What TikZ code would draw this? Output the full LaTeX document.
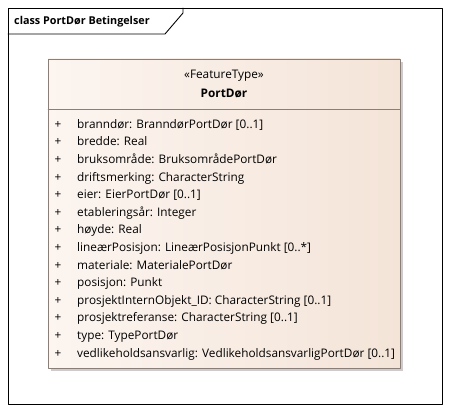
\documentclass[tikz,border=0pt]{standalone}
\usepackage{fontspec}
\setmainfont{Open Sans}
\usetikzlibrary{positioning}
\definecolor{boxleft}{HTML}{FCF5F0}
\definecolor{boxright}{HTML}{F4E4D8}
\definecolor{boxline}{HTML}{8A7F78}
\definecolor{shadowgray}{HTML}{CFCACB}

\begin{document}
\begin{tikzpicture}[x=1pt,y=-1pt,line cap=round,line join=round,
    attr/.style={inner sep=0pt,font=\fontsize{11.8}{14}\selectfont},
    head/.style={inner sep=0pt,font=\fontsize{11.8}{14}\selectfont}]
  \useasboundingbox (0,0) rectangle (450,412);
  % frame and tab
  \draw[line width=0.9pt] (8,8) rectangle (442,404);
  \draw[line width=0.9pt] (8,34) -- (165,34) -- (183,13) -- (183,8);
  \node[head,anchor=base west,font=\fontsize{10.8}{13}\selectfont\bfseries] (title) at (14,25) {class PortDør Betingelser};
  % class box
  \fill[shadowgray] (51,62) rectangle (403,371);
  \draw[draw=boxline,left color=boxleft,right color=boxright] (48,59) rectangle (400,368);
  \draw[boxline] (48,109) -- (400,109);
  \node[head,anchor=base] (stereo) at (224,79) {«FeatureType»};
  \node[head,anchor=base,font=\fontsize{11.8}{14}\selectfont\bfseries] (classname) at (224,97.5) {PortDør};
  \foreach \txt [count=\i] in {
      {branndør: BranndørPortDør [0..1]},
      {bredde: Real},
      {bruksområde: BruksområdePortDør},
      {driftsmerking: CharacterString},
      {eier: EierPortDør [0..1]},
      {etableringsår: Integer},
      {høyde: Real},
      {lineærPosisjon: LineærPosisjonPunkt [0..*]},
      {materiale: MaterialePortDør},
      {posisjon: Punkt},
      {prosjektInternObjekt\_ID: CharacterString [0..1]},
      {prosjektreferanse: CharacterString [0..1]},
      {type: TypePortDør},
      {vedlikeholdsansvarlig: VedlikeholdsansvarligPortDør [0..1]}}
  {
    \node[attr,anchor=base] (plus\i) at (58,110.6+17.6*\i) {+};
    \node[attr,anchor=base west] (attr\i) at (77,110.6+17.6*\i) {\txt};
  }
\end{tikzpicture}
\end{document}
